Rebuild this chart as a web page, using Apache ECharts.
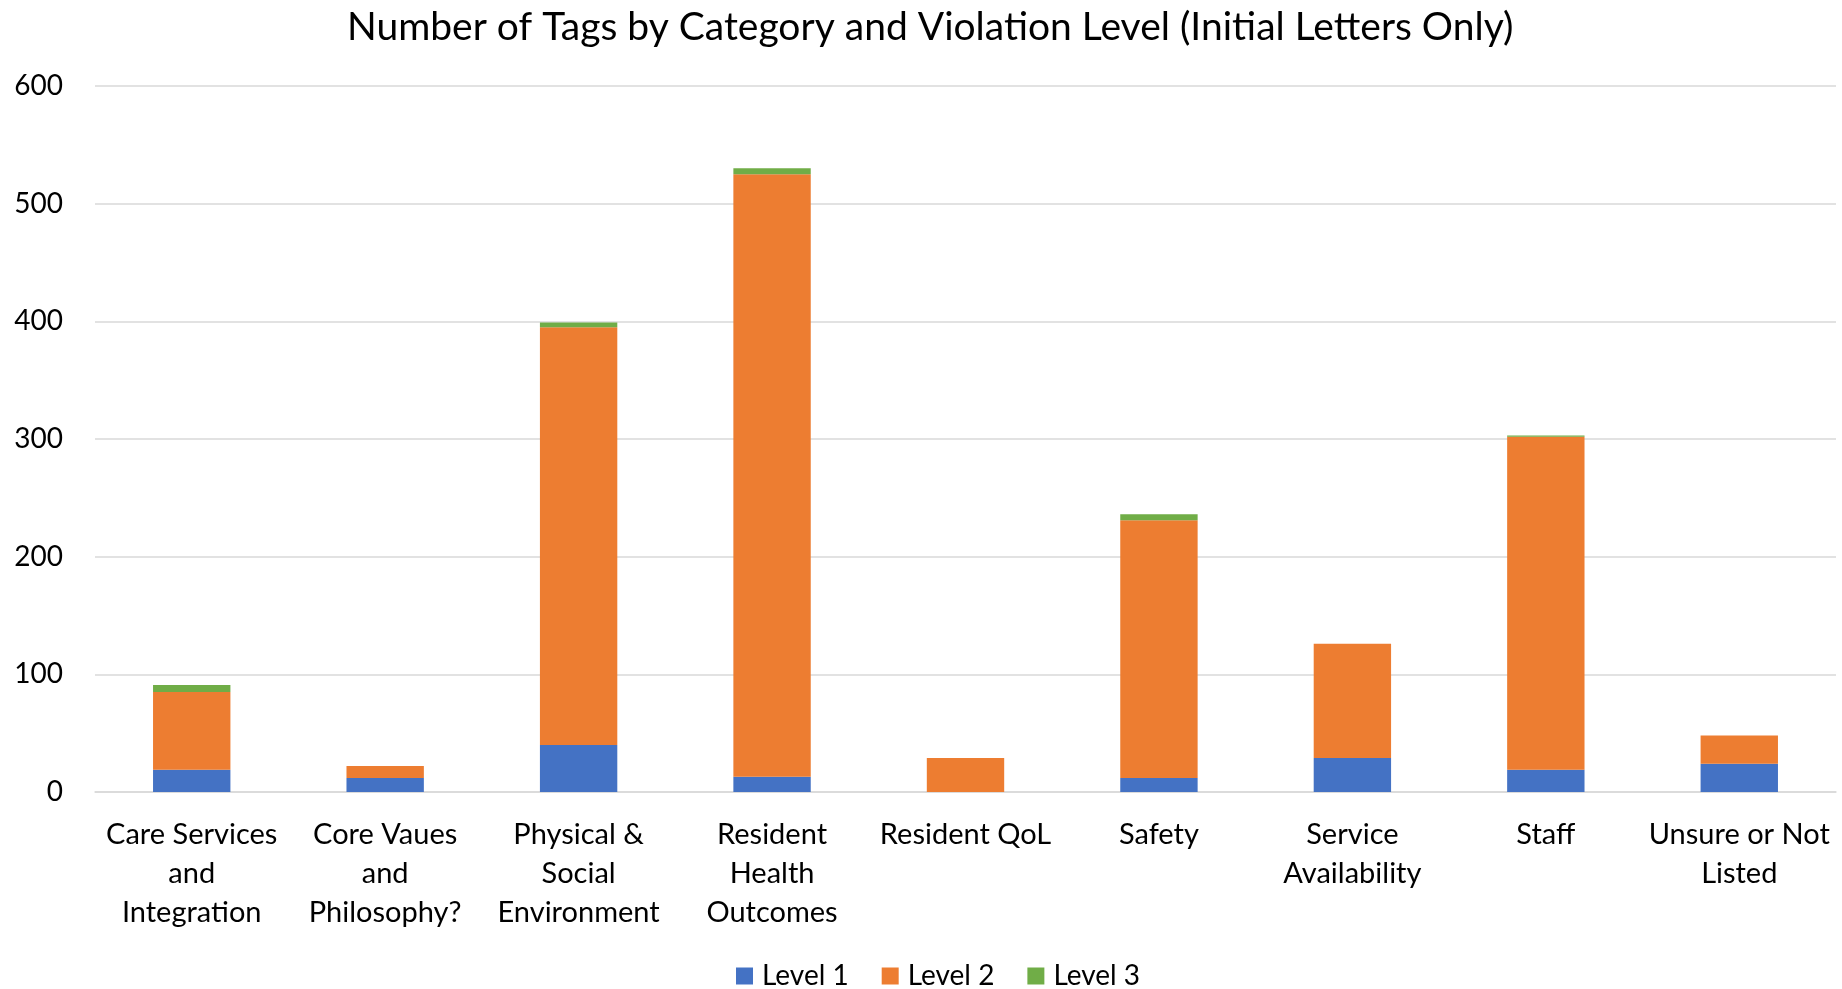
<!DOCTYPE html>
<html>
<head>
<meta charset="utf-8">
<script src="https://cdn.jsdelivr.net/npm/echarts@6/dist/echarts.min.js"></script>
<style>
html,body{margin:0;padding:0;background:#fff;}
#chart{width:1842px;height:989px;}
</style>
</head>
<body>
<div id="chart"></div>
<script>
const categories = [
  "Care Services\nand\nIntegration",
  "Core Vaues\nand\nPhilosophy?",
  "Physical &\nSocial\nEnvironment",
  "Resident\nHealth\nOutcomes",
  "Resident QoL",
  "Safety",
  "Service\nAvailability",
  "Staff",
  "Unsure or Not\nListed"
];
const level1 = [19, 12, 40, 13, 0, 12, 29, 19, 24];
const level2 = [66, 10, 355, 512, 29, 219, 97, 283, 24];
const level3 = [6, 0, 4, 5, 0, 5, 0, 1, 0];
const yTicks = [0, 100, 200, 300, 400, 500, 600];

const FONT = 'Lato';
const chart = echarts.init(document.getElementById('chart'));
function barSeries(name, data, color) {
  return {
    name: name, type: 'bar', stack: 'total', data: data,
    barWidth: '40%',
    itemStyle: { color: color },
    emphasis: { disabled: true }
  };
}
chart.setOption({
  animation: false,
  textStyle: { fontFamily: FONT },
  title: {
    text: 'Number of Tags by Category and Violation Level (Initial Letters Only)',
    left: 342, top: 3,
    textStyle: { fontFamily: FONT, fontSize: 39, fontWeight: 'normal', color: '#000' }
  },
  legend: {
    top: 957, left: 731,
    itemWidth: 17, itemHeight: 17, itemGap: 33,
    icon: 'rect',
    textStyle: { fontFamily: FONT, fontSize: 28, color: '#000', padding: [0, 0, 0, 4] },
    data: ['Level 1', 'Level 2', 'Level 3']
  },
  grid: { left: 95, right: 6, top: 86, bottom: 197, containLabel: false },
  xAxis: {
    type: 'category', data: categories,
    axisLine: { lineStyle: { color: '#d9d9d9', width: 1.5 } },
    axisTick: { show: false },
    axisLabel: { interval: 0, fontFamily: FONT, fontSize: 29, color: '#000', lineHeight: 39, margin: 23 }
  },
  yAxis: {
    type: 'value', min: yTicks[0], max: yTicks[yTicks.length - 1], interval: 100,
    axisLine: { show: false }, axisTick: { show: false },
    splitLine: { lineStyle: { color: '#d9d9d9', width: 1.5 } },
    axisLabel: { fontFamily: FONT, fontSize: 28, color: '#000', margin: 32 }
  },
  series: [
    barSeries('Level 1', level1, '#4472C4'),
    barSeries('Level 2', level2, '#ED7D31'),
    barSeries('Level 3', level3, '#70AD47')
  ]
});
</script>
</body>
</html>
